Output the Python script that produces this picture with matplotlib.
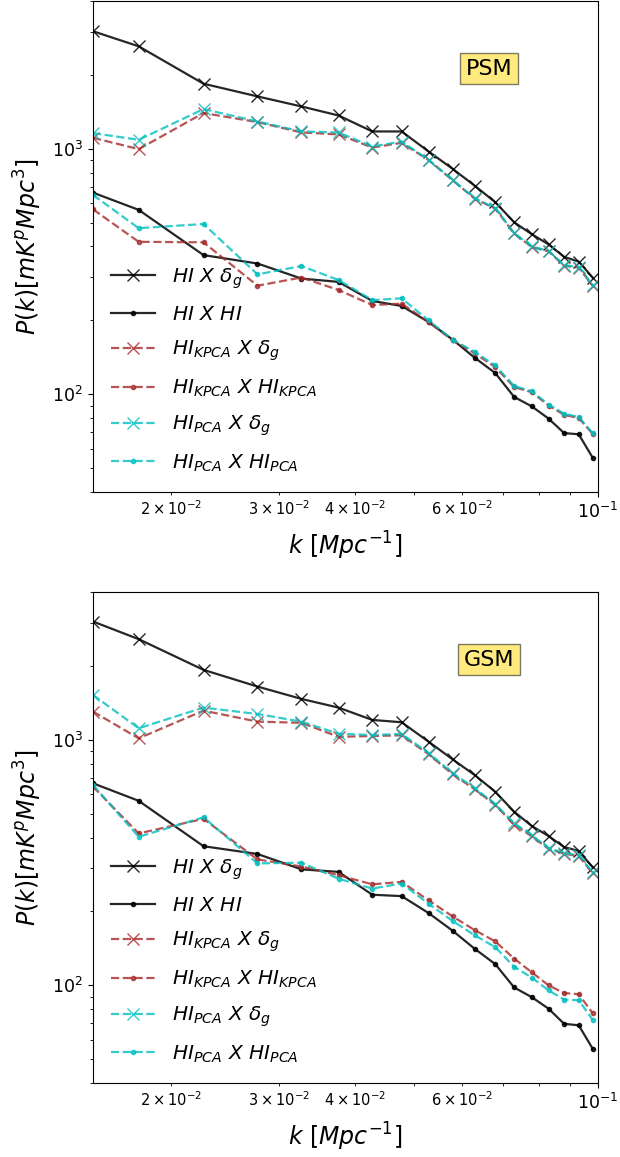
import matplotlib
matplotlib.use("Agg")
import matplotlib.pyplot as plt

# k bins (Mpc^-1)
k = [0.0149, 0.0177, 0.0226, 0.0277, 0.0327, 0.0376, 0.0427, 0.0477, 0.0528,
     0.0578, 0.0628, 0.0679, 0.0729, 0.0779, 0.0830, 0.0880, 0.0930, 0.0980]

# ---- PSM panel ----
psm_hi_dg = [3013, 2616, 1842, 1635, 1488, 1367, 1177, 1177, 975, 829, 708, 606,
             502, 449, 408, 363, 347, 299]
psm_hi_hi = [663, 564, 369, 341, 296, 287, 240, 229, 197, 167, 141, 122,
             97.5, 89.3, 79.6, 69.5, 68.7, 55.2]
psm_kpca_dg = [1109, 997, 1399, 1285, 1166, 1145, 1012, 1058, 900, 745, 627, 571,
               452, 398, 382, 334, 328, 277]
psm_kpca_hi = [567, 418, 416, 277, 299, 266, 231, 234, 197, 166, 147, 129,
               107, 102, 90, 82.5, 80, 69]
psm_pca_dg = [1159, 1088, 1452, 1292, 1177, 1166, 1022, 1071, 902, 747, 629, 573,
              454, 400, 384, 336, 330, 279]
psm_pca_hi = [649, 475, 494, 308, 333, 292, 242, 246, 200, 167, 149, 131,
              108, 103, 90.8, 83.4, 80.8, 69.5]

# ---- GSM panel ----
gsm_hi_dg = [3040, 2576, 1931, 1651, 1470, 1355, 1207, 1181, 984, 834, 720, 615,
             510, 446, 406, 366, 353, 303]
gsm_hi_hi = [666, 565, 369, 343, 297, 290, 234, 231, 197, 167, 141, 122,
             98, 89.5, 80.3, 69.7, 68.7, 55.2]
gsm_kpca_dg = [1305, 1016, 1317, 1188, 1175, 1030, 1038, 1045, 875, 725, 630, 543,
               452, 405, 360, 344, 336, 287]
gsm_kpca_hi = [645, 416, 477, 326, 305, 281, 258, 264, 222, 191, 168, 151,
               128.5, 113, 100, 93, 92, 77]
gsm_pca_dg = [1526, 1116, 1355, 1276, 1188, 1060, 1048, 1058, 885, 733, 637, 548,
              458, 410, 362, 346, 339, 289]
gsm_pca_hi = [655, 403, 484, 314, 316, 272, 248, 260, 215, 183, 160, 143,
              119, 107.5, 95.4, 87.5, 86.9, 72.4]

labels = [r'$HI\ X\ \delta_g$', r'$HI\ X\ HI$',
          r'$HI_{KPCA}\ X\ \delta_g$', r'$HI_{KPCA}\ X\ HI_{KPCA}$',
          r'$HI_{PCA}\ X\ \delta_g$', r'$HI_{PCA}\ X\ HI_{PCA}$']
panel_names = ['PSM', 'GSM']

fig = plt.figure(figsize=(6.2, 11.57), dpi=100)
ax1 = fig.add_axes([0.150, 0.5748, 0.8145, 0.4243])
ax2 = fig.add_axes([0.150, 0.0640, 0.8145, 0.4241])

panels = [
    (ax1, psm_hi_dg, psm_hi_hi, psm_kpca_dg, psm_kpca_hi, psm_pca_dg, psm_pca_hi),
    (ax2, gsm_hi_dg, gsm_hi_hi, gsm_kpca_dg, gsm_kpca_hi, gsm_pca_dg, gsm_pca_hi),
]

for (ax, hdg, hhi, kdg, khi, pdg, phi), name in zip(panels, panel_names):
    ax.loglog(k, hdg, '-', color='black', marker='x', ms=8, lw=1.6, alpha=0.85, label=labels[0])
    ax.loglog(k, hhi, '-', color='black', marker='.', ms=6, lw=1.6, alpha=0.85, label=labels[1])
    ax.loglog(k, kdg, '--', color='brown', marker='x', ms=8, lw=1.6, alpha=0.8, label=labels[2])
    ax.loglog(k, khi, '--', color='brown', marker='.', ms=6, lw=1.6, alpha=0.8, label=labels[3])
    ax.loglog(k, pdg, '--', color='c', marker='x', ms=8, lw=1.6, alpha=0.8, label=labels[4])
    ax.loglog(k, phi, '--', color='c', marker='.', ms=6, lw=1.6, alpha=0.8, label=labels[5])
    ax.set_xlim(0.0149, 0.1)
    ax.set_ylim(40, 4000)
    ax.tick_params(axis='both', which='major', labelsize=12.5)
    ax.tick_params(axis='x', which='minor', labelsize=10.5)
    ax.set_xlabel(r'$k\ [Mpc^{-1}]$', fontsize=17, labelpad=6)
    ax.set_ylabel(r'$P(k) [mK^{p} Mpc^{3}]$', fontsize=17, labelpad=6)
    ax.legend(loc='lower left', fontsize=14.5, frameon=False,
              labelspacing=0.72, handlelength=2.2, handletextpad=0.8)
    ax.text(0.784, 0.8625, name, transform=ax.transAxes, fontsize=16,
            ha='center', va='center',
            bbox=dict(facecolor='gold', alpha=0.5))

fig.savefig('out.png', dpi=100)
